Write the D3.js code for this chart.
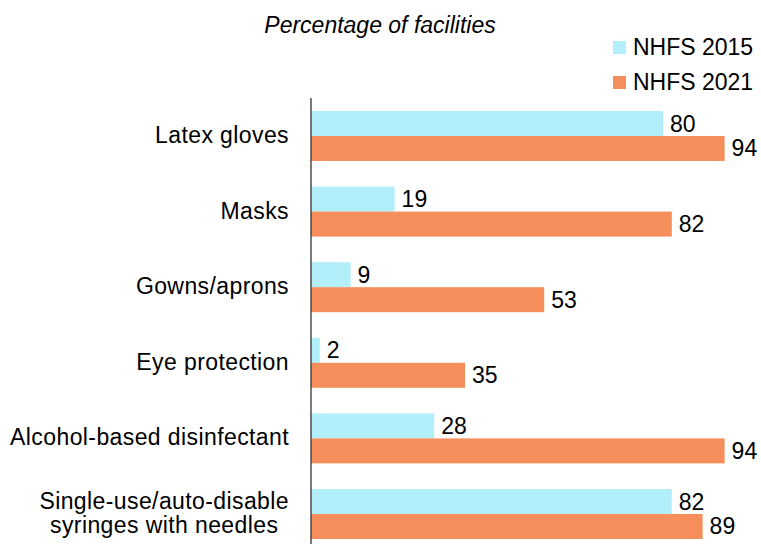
<!DOCTYPE html>
<html>
<head>
<meta charset="utf-8">
<script src="https://cdn.jsdelivr.net/npm/d3@7"></script>
<style>
  body { margin: 0; background: #fff; }
  text { font-family: "Liberation Sans", Arial, sans-serif; fill: #000; }
</style>
</head>
<body>
<script>
var categories = ["Latex gloves", "Masks", "Gowns/aprons", "Eye protection",
    "Alcohol-based disinfectant", "Single-use/auto-disable\nsyringes with needles"];
var seriesNames = ["NHFS 2015", "NHFS 2021"];
var values2015 = [80, 19, 9, 2, 28, 82];
var values2021 = [94, 82, 53, 35, 94, 89];
var colors = ["#b3eefb", "#f58e5a"];

var w = 761, h = 544;
var svg = d3.select("body").append("svg")
    .attr("width", w)
    .attr("height", h);

var x = d3.scaleLinear().domain([0, 100]).range([311, 751]);
var y0 = d3.scaleBand()
    .domain(categories)
    .range([98, 552])
    .paddingInner(0.339)
    .paddingOuter(0.172);
var y1 = d3.scaleBand()
    .domain(seriesNames)
    .range([0, y0.bandwidth()]);

var rows = categories.map(function (c, i) {
    return { cat: c, vals: [values2015[i], values2021[i]] };
});

var groups = svg.selectAll("g.cat")
    .data(rows)
    .enter()
    .append("g")
    .attr("class", "cat")
    .attr("transform", function (d) { return "translate(0," + y0(d.cat) + ")"; });

groups.selectAll("rect")
    .data(function (d) { return d.vals; })
    .enter()
    .append("rect")
    .attr("x", x(0))
    .attr("y", function (d, i) { return y1(seriesNames[i]); })
    .attr("width", function (d) { return x(d) - x(0); })
    .attr("height", y1.bandwidth())
    .attr("fill", function (d, i) { return colors[i]; });

groups.selectAll("text.val")
    .data(function (d) { return d.vals; })
    .enter()
    .append("text")
    .attr("class", "val")
    .attr("x", function (d) { return x(d) + 7; })
    .attr("y", function (d, i) { return y1(seriesNames[i]) + y1.bandwidth() / 2 + 8; })
    .style("font-size", "23px")
    .text(function (d) { return d; });

// category labels: lines centred on each other, block right-aligned at the axis
var labelRight = 289;
groups.append("text")
    .attr("class", "cat-label")
    .attr("text-anchor", "middle")
    .style("font-size", "23px")
    .style("letter-spacing", "0.4px")
    .each(function (d) {
        var lines = d.cat.split("\n");
        var mid = y0.bandwidth() / 2;
        var start = mid + 7 - (lines.length - 1) * 24.5 / 2;
        var tspans = d3.select(this).selectAll("tspan")
            .data(lines)
            .enter()
            .append("tspan")
            .attr("y", function (l, j) { return start + j * 24.5; })
            .text(function (l) { return l; });
        var maxW = 0;
        tspans.each(function () { maxW = Math.max(maxW, this.getComputedTextLength()); });
        tspans.attr("x", labelRight - maxW / 2);
    });

// vertical axis line
svg.append("line")
    .attr("x1", x(0)).attr("x2", x(0))
    .attr("y1", 98).attr("y2", h)
    .attr("stroke", "#333")
    .attr("stroke-width", 1.3);

// title
svg.append("text")
    .attr("x", 380)
    .attr("y", 33)
    .attr("text-anchor", "middle")
    .style("font-size", "23px")
    .style("font-style", "italic")
    .text("Percentage of facilities");

// legend
var legend = svg.selectAll("g.legend")
    .data(seriesNames)
    .enter()
    .append("g")
    .attr("class", "legend")
    .attr("transform", function (d, i) { return "translate(613," + (41 + i * 35) + ")"; });
legend.append("rect")
    .attr("width", 13)
    .attr("height", 13)
    .attr("fill", function (d, i) { return colors[i]; });
legend.append("text")
    .attr("x", 20)
    .attr("y", 14)
    .style("font-size", "23px")
    .text(function (d) { return d; });
</script>
</body>
</html>
